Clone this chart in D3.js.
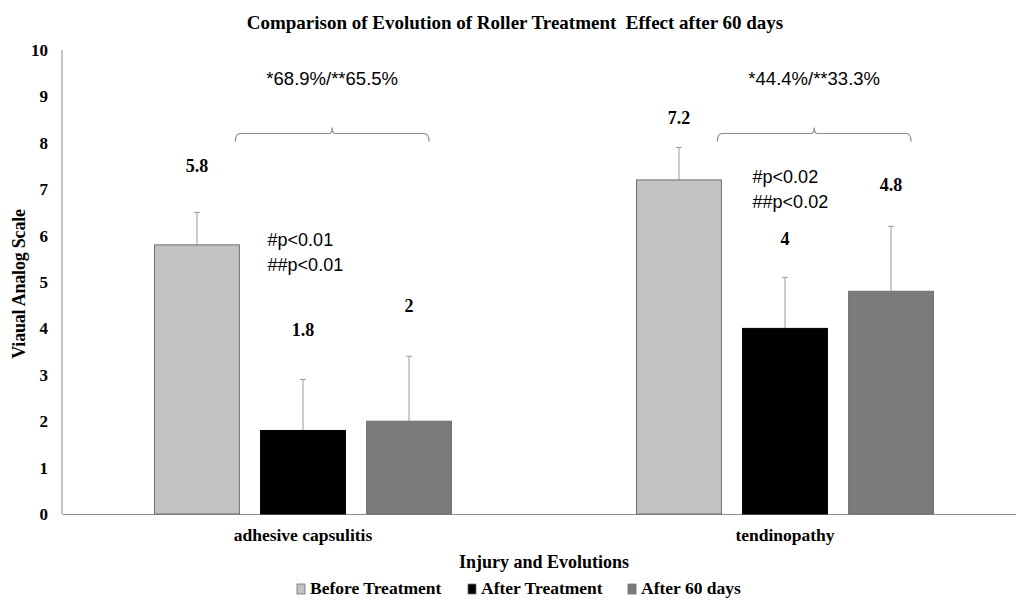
<!DOCTYPE html>
<html>
<head>
<meta charset="utf-8">
<script src="https://cdn.jsdelivr.net/npm/d3@7"></script>
<style>
  body { margin: 0; background: #fff; }
  svg { display: block; }
</style>
</head>
<body>
<svg width="1016" height="608"></svg>
<script>
const injuries = ["adhesive capsulitis", "tendinopathy"];
const phases = ["Before Treatment", "After Treatment", "After 60 days"];
const means = [
  [5.8, 1.8, 2],
  [7.2, 4, 4.8]
];
const errors = [
  [0.7, 1.1, 1.4],
  [0.7, 1.1, 1.4]
];
const improvement = ["*68.9%/**65.5%", "*44.4%/**33.3%"];
const pValues = [
  ["#p<0.01", "##p<0.01"],
  ["#p<0.02", "##p<0.02"]
];
const yTicks = [0, 1, 2, 3, 4, 5, 6, 7, 8, 9, 10];

// label lift above the error bar, px (labels were hand placed in the original)
const labelLift = [
  [40, 43, 44],
  [23, 32, 35]
];

const colors = ["#c3c3c3", "#000000", "#7b7b7b"];
const serif = "'Liberation Serif', 'Times New Roman', serif";
const sans = "'Liberation Sans', Arial, sans-serif";

const svg = d3.select("svg");
const margin = { left: 62, top: 50, bottom: 94 };
const height = 608;

const x0 = d3.scaleBand()
  .domain(injuries)
  .range([margin.left, 1026])
  .paddingInner(0.384)
  .paddingOuter(0.192);

const x1 = d3.scaleBand()
  .domain(phases)
  .range([0, x0.bandwidth()])
  .paddingInner(0.2);

const y = d3.scaleLinear()
  .domain([0, 10])
  .range([height - margin.bottom, margin.top]);

// title
svg.append("text")
  .attr("x", 515)
  .attr("y", 29)
  .attr("text-anchor", "middle")
  .attr("xml:space", "preserve")
  .style("font-family", serif)
  .style("font-weight", "bold")
  .style("font-size", "19px")
  .text("Comparison of Evolution of Roller Treatment  Effect after 60 days");

// y axis
const yAxis = svg.append("g")
  .attr("transform", `translate(${margin.left},0)`)
  .call(d3.axisLeft(y).tickValues(yTicks).tickSize(0).tickPadding(14));
yAxis.select(".domain").attr("stroke", "#8c8c8c").attr("d", `M0,${y(10)}V${y(0)}`);
yAxis.selectAll("text")
  .style("font-family", serif)
  .style("font-weight", "bold")
  .style("font-size", "17px")
  .attr("fill", "#000");

// x axis
const xAxis = svg.append("g")
  .attr("transform", `translate(0,${y(0)})`)
  .call(d3.axisBottom(x0).tickSize(0).tickPadding(15));
xAxis.select(".domain").attr("stroke", "#8c8c8c");
xAxis.selectAll("text")
  .style("font-family", serif)
  .style("font-weight", "bold")
  .style("font-size", "17.5px")
  .attr("fill", "#000");

// axis titles
svg.append("text")
  .attr("transform", "translate(25,284) rotate(-90)")
  .attr("text-anchor", "middle")
  .style("font-family", serif)
  .style("font-weight", "bold")
  .style("font-size", "18px")
  .style("letter-spacing", "-0.2px")
  .text("Viaual Analog Scale");

svg.append("text")
  .attr("x", 544)
  .attr("y", 568)
  .attr("text-anchor", "middle")
  .style("font-family", serif)
  .style("font-weight", "bold")
  .style("font-size", "18px")
  .text("Injury and Evolutions");

// bars
const groups = svg.selectAll(".group")
  .data(injuries)
  .enter().append("g")
  .attr("class", "group")
  .attr("transform", d => `translate(${x0(d)},0)`);

groups.each(function(inj, gi) {
  const g = d3.select(this);
  const rows = phases.map((p, pi) => ({
    phase: p, pi, v: means[gi][pi], e: errors[gi][pi], lift: labelLift[gi][pi]
  }));

  g.selectAll("line.err")
    .data(rows)
    .enter().append("line")
    .attr("class", "err")
    .attr("x1", d => x1(d.phase) + x1.bandwidth() / 2)
    .attr("x2", d => x1(d.phase) + x1.bandwidth() / 2)
    .attr("y1", d => y(d.v))
    .attr("y2", d => y(d.v + d.e))
    .attr("stroke", "#9a9a9a")
    .attr("stroke-width", 1);

  g.selectAll("line.cap")
    .data(rows)
    .enter().append("line")
    .attr("class", "cap")
    .attr("x1", d => x1(d.phase) + x1.bandwidth() / 2 - 3)
    .attr("x2", d => x1(d.phase) + x1.bandwidth() / 2 + 3)
    .attr("y1", d => y(d.v + d.e))
    .attr("y2", d => y(d.v + d.e))
    .attr("stroke", "#9a9a9a")
    .attr("stroke-width", 1);

  g.selectAll("rect")
    .data(rows)
    .enter().append("rect")
    .attr("x", d => x1(d.phase))
    .attr("y", d => y(d.v))
    .attr("width", x1.bandwidth())
    .attr("height", d => y(0) - y(d.v))
    .attr("fill", d => colors[d.pi])
    .attr("stroke", d => d.pi === 1 ? "#000" : "#6e6e6e")
    .attr("stroke-width", 1);

  g.selectAll("text.val")
    .data(rows)
    .enter().append("text")
    .attr("class", "val")
    .attr("x", d => x1(d.phase) + x1.bandwidth() / 2)
    .attr("y", d => y(d.v + d.e) - d.lift)
    .attr("text-anchor", "middle")
    .style("font-family", serif)
    .style("font-weight", "bold")
    .style("font-size", "18px")
    .text(d => d.v);

  // brace over after-treatment bars
  const bx0 = x1(phases[0]) + x1.bandwidth() - 4;
  const bx1 = x1(phases[2]) + x1.bandwidth() / 2 + 20;
  const bm = (bx0 + bx1) / 2;
  const by = y(8.2);
  g.append("path")
    .attr("d", `M${bx0},${by + 8} Q${bx0},${by} ${bx0 + 5},${by} L${bm - 3},${by} Q${bm},${by} ${bm},${by - 6} Q${bm},${by} ${bm + 3},${by} L${bx1 - 5},${by} Q${bx1},${by} ${bx1},${by + 8}`)
    .attr("fill", "none")
    .attr("stroke", "#8c8c8c")
    .attr("stroke-width", 1.2);

  g.append("text")
    .attr("x", bm)
    .attr("y", y(9.25))
    .attr("text-anchor", "middle")
    .style("font-family", sans)
    .style("font-size", "18.5px")
    .text(improvement[gi]);

  const px = x1(phases[1]) + (gi === 0 ? 7 : 10);
  const py = gi === 0 ? [5.78, 5.24] : [7.13, 6.59];
  g.selectAll("text.p")
    .data(pValues[gi])
    .enter().append("text")
    .attr("class", "p")
    .attr("x", px)
    .attr("y", (d, i) => y(py[i]))
    .style("font-family", sans)
    .style("font-size", "18px")
    .text(d => d);
});

// legend
const legendX = [297, 468, 628];
const legend = svg.selectAll(".legend")
  .data(phases)
  .enter().append("g")
  .attr("class", "legend")
  .attr("transform", (d, i) => `translate(${legendX[i]},589)`);

legend.append("rect")
  .attr("x", 0)
  .attr("y", -5)
  .attr("width", 8)
  .attr("height", 10)
  .attr("fill", (d, i) => colors[i])
  .attr("stroke", "#6e6e6e")
  .attr("stroke-width", 0.8);

legend.append("text")
  .attr("x", 13)
  .attr("y", 5)
  .style("font-family", serif)
  .style("font-weight", "bold")
  .style("font-size", "17.5px")
  .text(d => d);
</script>
</body>
</html>
